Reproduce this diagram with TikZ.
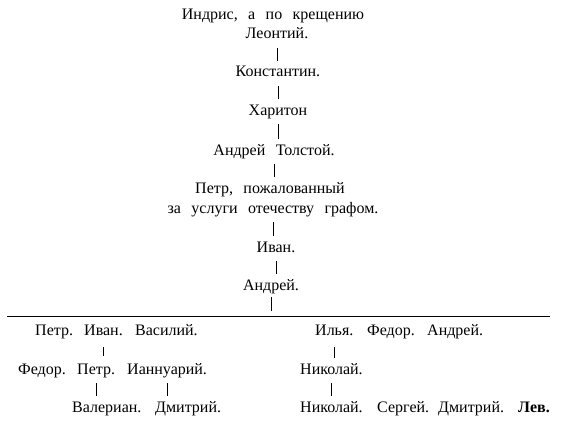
\documentclass[tikz,border=0pt]{standalone}
\usepackage{fontspec}
\setmainfont{Liberation Serif}[WordSpace=2.6]
\usepackage{tikz}

\begin{document}
\begin{tikzpicture}[x=1pt, y=-1pt,
		entry/.style={anchor=base, inner sep=0pt, text height=11pt, text depth=3pt, font=\fontsize{16}{16}\selectfont},
		word/.style={entry, anchor=base west},
		tie/.style={line width=0.6pt, shorten <=6pt, shorten >=5pt},
		rule/.style={line width=1pt}]
			\useasboundingbox (0,0) rectangle (564,433);
			\node [entry] (indris) at (273,20) {Индрис, а по крещению};
			\node [entry] (leontij) at (277,39) {Леонтий.};
			\node [entry] (konst) at (278,77) {Константин.};
			\node [entry] (hariton) at (278,115) {Харитон};
			\node [entry] (andrejT) at (274,155) {Андрей Толстой.};
			\node [entry] (petrG) at (270,193) {Петр, пожалованный};
			\node [entry] (petrG2) at (273,213) {за услуги отечеству графом.};
			\node [entry] (ivanA) at (276,252) {Иван.};
			\node [entry] (andrejA) at (271,290) {Андрей.};
			\coordinate (ruleL) at (7,316);
			\coordinate (ruleR) at (550,316);
			\node [word] (petrL) at (35,335) {Петр.};
			\node [word] (ivanL) at (84,335) {Иван.};
			\node [word] (vasilij) at (135,335) {Василий.};
			\node [word] (fedorL) at (18,374) {Федор.};
			\node [word] (petrM) at (77,374) {Петр.};
			\node [word] (iannuarij) at (127,374) {Ианнуарий.};
			\node [word] (valerian) at (72,412) {Валериан.};
			\node [word] (dmitrijL) at (155,412) {Дмитрий.};
			\node [word] (ilja) at (315,335) {Илья.};
			\node [word] (fedorR) at (367,335) {Федор.};
			\node [word] (andrejR) at (427,335) {Андрей.};
			\node [word] (nikolajM) at (300,374) {Николай.};
			\node [word] (nikolajR) at (300,412) {Николай.};
			\node [word] (sergej) at (377,412) {Сергей.};
			\node [word] (dmitrijR) at (438,412) {Дмитрий.};
			\node [word] (lev) at (518,412) {\bfseries Лев.};
			\draw [tie] (leontij.south) -- (leontij.south |- konst.north);
			\draw [tie] (konst.south) -- (konst.south |- hariton.north);
			\draw [tie] (hariton.south) -- (hariton.south |- andrejT.north);
			\draw [tie] (andrejT.south) -- (andrejT.south |- petrG.north);
			\draw [tie] (petrG2.south) -- (petrG2.south |- ivanA.north);
			\draw [tie] (ivanA.south) -- (ivanA.south |- andrejA.north);
			\draw [tie, shorten <=4pt, shorten >=5pt] (andrejA.south) -- (andrejA.south |- ruleL);
			\draw [rule] (ruleL) -- (ruleR);
			\draw [tie, shorten <=9pt, shorten >=7pt] (ivanL.south) -- (ivanL.south |- petrM.north);
			\draw [tie] (petrM.south) -- (petrM.south |- valerian.north);
			\draw [tie] (iannuarij.south) -- (iannuarij.south |- dmitrijL.north);
			\draw [tie, shorten <=9pt] (ilja.south) -- (ilja.south |- nikolajM.north);
			\draw [tie] (nikolajM.south) -- (nikolajM.south |- nikolajR.north);
		\end{tikzpicture}
\end{document}
